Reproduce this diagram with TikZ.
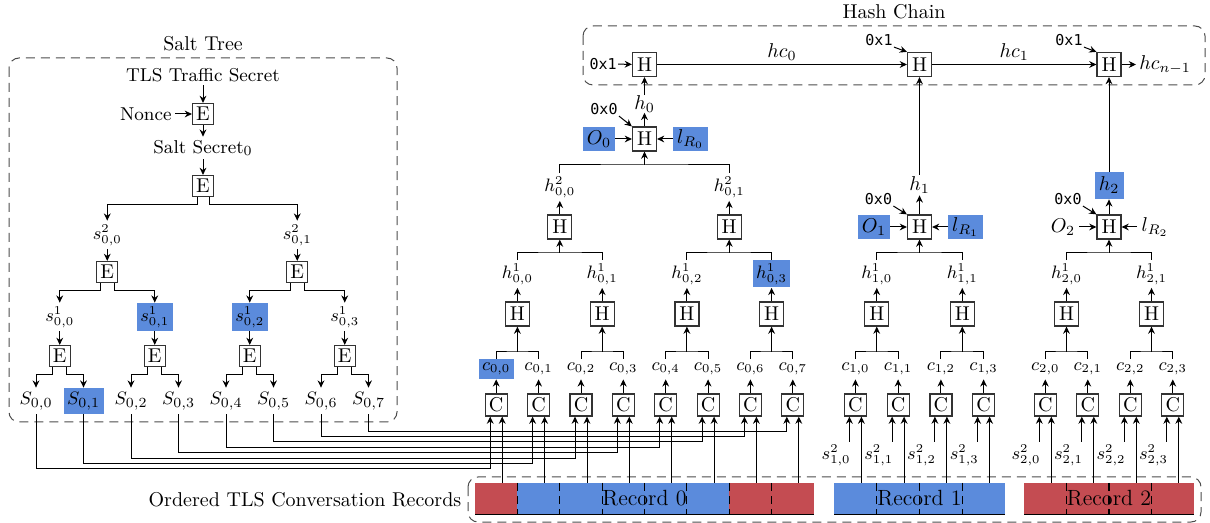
\documentclass[tikz,border=0pt]{standalone}
\usepackage{fontspec}
\newfontfamily\monofont{DejaVu Sans Mono}
\usetikzlibrary{arrows.meta,calc}
\definecolor{hlblue}{RGB}{91,139,220}
\definecolor{recred}{RGB}{196,76,82}
\begin{document}
\begin{tikzpicture}[x=0.5pt,y=-0.5pt,
 ln/.style={line width=0.5pt},
 arr/.style={ln,-{Stealth[length=3.6pt,width=3.4pt,inset=1.2pt]}},
 box/.style={draw=black!80,line width=0.6pt,fill=white,inner sep=0pt,font=\fontsize{10}{11}\selectfont},
 ebox/.style={box,minimum size=10.5pt},
 cbox/.style={box,minimum size=11pt},
 hbox/.style={box,minimum size=12pt},
 txt/.style={inner sep=1.5pt,font=\fontsize{9.3}{11}\selectfont},
 ttl/.style={inner sep=1pt,font=\fontsize{10}{12}\selectfont},
 lbl/.style={inner sep=0pt,font=\fontsize{9}{10}\selectfont},
 slbl/.style={lbl,minimum width=18pt,minimum height=14pt},
 leaf/.style={lbl,font=\fontsize{9.5}{10}\selectfont,minimum width=20pt,minimum height=13pt},
 clbl/.style={lbl,minimum width=17.5pt,minimum height=10pt},
 hlbl/.style={lbl,minimum width=18.5pt,minimum height=13.5pt},
 blbl/.style={lbl,font=\fontsize{10}{11}\selectfont,minimum width=16pt,minimum height=12pt},
 biglbl/.style={lbl,font=\fontsize{10}{11}\selectfont},
 tt/.style={inner sep=0.5pt,font=\monofont\fontsize{7.5}{9}\selectfont},
 frame/.style={draw=black!70,line width=0.5pt,dash pattern=on 4.5pt off 3pt,rounded corners=5pt},
 divl/.style={line width=0.6pt,dash pattern=on 4pt off 2.5pt},
 recl/.style={inner sep=0pt,minimum height=15.5pt,font=\fontsize{11}{12}\selectfont},
]
\useasboundingbox (0,0) rectangle (1210,523);

% ================= Salt tree =================
\node[ttl] (sttl) at (203,44) {Salt Tree};
\draw[frame] (9,58) rectangle (397,422);
\node[txt] (tls) at (203,75) {TLS Traffic Secret};
\node[ebox] (e0) at (203,114) {E};
\node[txt,anchor=east] (nonce) at (175,114) {Nonce};
\node[txt] (ss) at (203,148) {Salt Secret$_0$};
\node[ebox] (e1) at (203,186) {E};
\draw[arr] (tls) -- (e0);
\draw[arr] (nonce) -- (e0);
\draw[arr] (e0) -- (ss);
\draw[arr] (ss) -- (e1);

\node[slbl] (s20) at (107.25,235) {$s^{2}_{0,0}$};
\node[slbl] (s21) at (297.25,235) {$s^{2}_{0,1}$};
\draw[arr] ([xshift=-3pt]e1.south) -- ++(0,7) -| (s20.north);
\draw[arr] ([xshift=3pt]e1.south) -- ++(0,7) -| (s21.north);
\node[ebox] (e20) at (107.25,272) {E};
\node[ebox] (e21) at (297.25,272) {E};
\draw[arr] (s20) -- (e20);
\draw[arr] (s21) -- (e21);

\foreach \i/\x/\fc in {0/59.75/none,1/154.75/hlblue,2/249.75/hlblue,3/344.75/none}{
  \node[slbl,fill=\fc] (s1\i) at (\x,317) {$s^{1}_{0,\i}$};
  \node[ebox] (e3\i) at (\x,356) {E};
  \draw[arr] (s1\i) -- (e3\i);
}
\draw[arr] ([xshift=-3.5pt]e20.south) -- ++(0,7) -| (s10.north);
\draw[arr] ([xshift=3.5pt]e20.south) -- ++(0,7) -| (s11.north);
\draw[arr] ([xshift=-3.5pt]e21.south) -- ++(0,7) -| (s12.north);
\draw[arr] ([xshift=3.5pt]e21.south) -- ++(0,7) -| (s13.north);

\foreach \i/\x/\fc in {0/36/none,1/83.5/hlblue,2/131/none,3/178.5/none,4/226/none,5/273.5/none,6/321/none,7/368.5/none}{
  \node[leaf,fill=\fc] (l\i) at (\x,401) {$S_{0,\i}$};
}
\draw[arr] ([xshift=-3.5pt]e30.south) -- ++(0,7) -| (l0.north);
\draw[arr] ([xshift=3.5pt]e30.south) -- ++(0,7) -| (l1.north);
\draw[arr] ([xshift=-3.5pt]e31.south) -- ++(0,7) -| (l2.north);
\draw[arr] ([xshift=3.5pt]e31.south) -- ++(0,7) -| (l3.north);
\draw[arr] ([xshift=-3.5pt]e32.south) -- ++(0,7) -| (l4.north);
\draw[arr] ([xshift=3.5pt]e32.south) -- ++(0,7) -| (l5.north);
\draw[arr] ([xshift=-3.5pt]e33.south) -- ++(0,7) -| (l6.north);
\draw[arr] ([xshift=3.5pt]e33.south) -- ++(0,7) -| (l7.north);

% ================= Records =================
\node[ttl] (otls) at (305,500) {Ordered TLS Conversation Records};
\draw[frame] (468,477) rectangle (1201,522);
% record 0
\fill[recred] (475,483) rectangle (517.375,514);
\fill[hlblue] (517.375,483) rectangle (729.25,514);
\fill[recred] (729.25,483) rectangle (814,514);
\foreach \k in {1,...,7} \draw[divl] ({475+42.375*\k},483) -- ({475+42.375*\k},514);
\draw[ln] (475,514) -- (814,514);
\node[recl,minimum width=169.5pt] (rec0) at (644.5,498.5) {Record 0};
% record 1
\fill[hlblue] (834,483) rectangle (1005,514);
\foreach \k in {1,2,3} \draw[divl] ({834+42.75*\k},483) -- ({834+42.75*\k},514);
\draw[ln] (834,514) -- (1005,514);
\node[recl,minimum width=85.5pt] (rec1) at (919.5,498.5) {Record 1};
% record 2
\fill[recred] (1024,483) rectangle (1194,514);
\foreach \k in {1,2,3} \draw[divl] ({1024+42.5*\k},483) -- ({1024+42.5*\k},514);
\draw[ln] (1024,514) -- (1194,514);
\node[recl,minimum width=85pt] (rec2) at (1109,498.5) {Record 2};

% ================= Record 0 hash tree =================
\foreach \i/\x/\fc in {0/496.2/hlblue,1/538.6/none,2/581.0/none,3/623.3/none,4/665.7/none,5/708.1/none,6/750.4/none,7/792.8/none}{
  \node[cbox] (C0\i) at (\x,405) {C};
  \node[clbl,fill=\fc] (c0\i) at (\x,369) {$c_{0,\i}$};
  \draw[arr] (C0\i) -- (c0\i);
  \draw[arr] ([xshift=3pt]C0\i.south |- rec0.north) -- ([xshift=3pt]C0\i.south);
}
\foreach \i/\yy in {0/469,1/463.6,2/458.2,3/452.8,4/447.4,5/442,6/436.6,7/431.2}{
  \coordinate (yl\i) at (0,\yy);
  \draw[arr] (l\i.south) -- (l\i.south |- yl\i) -| ([xshift=-3pt]C0\i.south);
}
\foreach \j/\x/\a/\b/\fc in {0/517.4/0/1/none,1/602.15/2/3/none,2/686.9/4/5/none,3/771.6/6/7/hlblue}{
  \node[hbox] (H0\j) at (\x,314) {H};
  \coordinate (J0\j) at (\x,352);
  \draw[ln] (c0\a.north) |- (J0\j) -| (c0\b.north);
  \draw[arr] (J0\j) -- (H0\j);
  \node[hlbl,fill=\fc] (h0\j) at (\x,274) {$h^{1}_{0,\j}$};
  \draw[arr] (H0\j) -- (h0\j);
}
\foreach \k/\x/\a/\b in {0/559.8/0/1,1/729.2/2/3}{
  \node[hbox] (G0\k) at (\x,227) {H};
  \coordinate (K0\k) at (\x,253);
  \draw[ln] (h0\a.north) |- (K0\k) -| (h0\b.north);
  \draw[arr] (K0\k) -- (G0\k);
  \node[hlbl] (g0\k) at (\x,187) {$h^{2}_{0,\k}$};
  \draw[arr] (G0\k) -- (g0\k);
}
\node[hbox] (R0) at (644.5,139) {H};
\coordinate (Q0) at (644.5,165);
\draw[ln] (g00.north) |- (Q0) -| (g01.north);
\draw[arr] (Q0) -- (R0);
\node[blbl,fill=hlblue] (O0) at (599,139) {$O_0$};
\node[blbl,fill=hlblue,minimum width=17.5pt] (L0) at (690.5,139) {$l_{R_0}$};
\node[tt] (z0) at (604,109) {0x0};
\node[biglbl,minimum height=8pt] (t0) at (644.5,104) {$h_0$};
\draw[arr] (O0) -- (R0);
\draw[arr] (L0) -- (R0);
\draw[arr] (z0.south east) -- (R0.north west);
\draw[arr] (R0) -- (t0);

% ================= Record 1 hash tree =================
\foreach \i/\x in {0/855.4,1/898.1,2/940.9,3/983.6}{
  \node[cbox] (C1\i) at (\x,405) {C};
  \node[clbl] (c1\i) at (\x,369) {$c_{1,\i}$};
  \draw[arr] (C1\i) -- (c1\i);
  \draw[arr] ([xshift=3pt]C1\i.south |- rec1.north) -- ([xshift=3pt]C1\i.south);
  \coordinate (a1\i) at ($(C1\i.south)+(-6,25)$);
  \node[lbl,anchor=north east] (sa1\i) at ($(a1\i)+(1.5,2.5)$) {$s^{2}_{1,\i}$};
  \draw[arr] (a1\i) -- (a1\i |- C1\i.south);
}
\foreach \j/\x/\a/\b in {0/876.75/0/1,1/962.25/2/3}{
  \node[hbox] (H1\j) at (\x,314) {H};
  \coordinate (J1\j) at (\x,352);
  \draw[ln] (c1\a.north) |- (J1\j) -| (c1\b.north);
  \draw[arr] (J1\j) -- (H1\j);
  \node[hlbl] (h1\j) at (\x,274) {$h^{1}_{1,\j}$};
  \draw[arr] (H1\j) -- (h1\j);
}
\node[hbox] (R1) at (919.5,227) {H};
\coordinate (Q1) at (919.5,253);
\draw[ln] (h10.north) |- (Q1) -| (h11.north);
\draw[arr] (Q1) -- (R1);
\node[blbl,fill=hlblue] (O1) at (874,227) {$O_1$};
\node[blbl,fill=hlblue,minimum width=17.5pt] (L1) at (965.5,227) {$l_{R_1}$};
\node[tt] (z1) at (878.5,199) {0x0};
\node[biglbl,minimum height=10pt] (t1) at (919.5,185) {$h_1$};
\draw[arr] (O1) -- (R1);
\draw[arr] (L1) -- (R1);
\draw[arr] (z1.south east) -- (R1.north west);
\draw[arr] (R1) -- (t1);

% ================= Record 2 hash tree =================
\foreach \i/\x in {0/1045.3,1/1087.8,2/1130.3,3/1172.8}{
  \node[cbox] (C2\i) at (\x,405) {C};
  \node[clbl] (c2\i) at (\x,369) {$c_{2,\i}$};
  \draw[arr] (C2\i) -- (c2\i);
  \draw[arr] ([xshift=3pt]C2\i.south |- rec2.north) -- ([xshift=3pt]C2\i.south);
  \coordinate (a2\i) at ($(C2\i.south)+(-6,25)$);
  \node[lbl,anchor=north east] (sa2\i) at ($(a2\i)+(1.5,2.5)$) {$s^{2}_{2,\i}$};
  \draw[arr] (a2\i) -- (a2\i |- C2\i.south);
}
\foreach \j/\x/\a/\b in {0/1066.5/0/1,1/1151.5/2/3}{
  \node[hbox] (H2\j) at (\x,314) {H};
  \coordinate (J2\j) at (\x,352);
  \draw[ln] (c2\a.north) |- (J2\j) -| (c2\b.north);
  \draw[arr] (J2\j) -- (H2\j);
  \node[hlbl] (h2\j) at (\x,274) {$h^{1}_{2,\j}$};
  \draw[arr] (H2\j) -- (h2\j);
}
\node[hbox] (R2) at (1109,227) {H};
\coordinate (Q2) at (1109,253);
\draw[ln] (h20.north) |- (Q2) -| (h21.north);
\draw[arr] (Q2) -- (R2);
\node[blbl] (O2) at (1063,227) {$O_2$};
\node[blbl,minimum width=17.5pt] (L2) at (1155,227) {$l_{R_2}$};
\node[tt] (z2) at (1068,199) {0x0};
\node[biglbl,fill=hlblue,minimum width=14.5pt,minimum height=13.5pt] (t2) at (1109,185.5) {$h_2$};
\draw[arr] (O2) -- (R2);
\draw[arr] (L2) -- (R2);
\draw[arr] (z2.south east) -- (R2.north west);
\draw[arr] (R2) -- (t2);

% ================= Hash chain =================
\node[ttl] (hcttl) at (894,12) {Hash Chain};
\draw[frame] (583,26) rectangle (1205,85);
\node[hbox] (Hc0) at (644.5,64.5) {H};
\node[hbox] (Hc1) at (919.5,64.5) {H};
\node[hbox] (Hc2) at (1109,64.5) {H};
\node[tt,anchor=east] (x0) at (618,64) {0x1};
\node[tt] (x1) at (879,40) {0x1};
\node[tt] (x2) at (1069,40) {0x1};
\draw[arr] (x0) -- (Hc0);
\draw[arr] (x1.south east) -- (Hc1.north west);
\draw[arr] (x2.south east) -- (Hc2.north west);
\draw[arr] (Hc0) -- node[biglbl,above,inner sep=1.5pt] (hcl0) {$hc_0$} (Hc1);
\draw[arr] (Hc1) -- node[biglbl,above,inner sep=1.5pt] (hcl1) {$hc_1$} (Hc2);
\node[biglbl,anchor=west,inner sep=1.5pt] (hcn) at (1136,64.5) {$hc_{n-1}$};
\draw[arr] (Hc2) -- (hcn);
\draw[arr] (t0) -- (Hc0);
\draw[arr] (t1) -- (Hc1);
\draw[arr] (t2) -- (Hc2);
\end{tikzpicture}
\end{document}
